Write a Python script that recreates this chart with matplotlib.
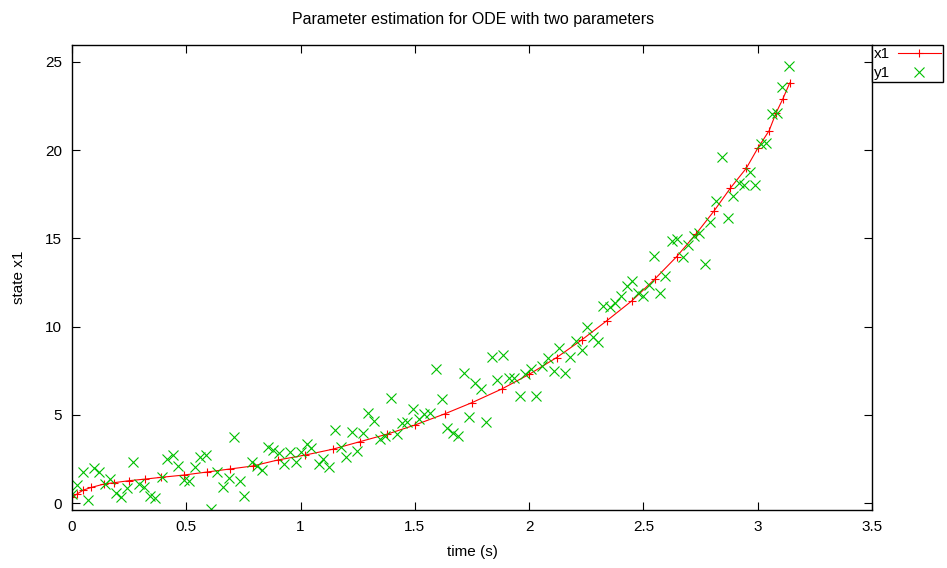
import matplotlib
matplotlib.use("Agg")
import matplotlib.pyplot as plt
import numpy as np

plt.rcParams['font.family'] = ['Liberation Sans', 'DejaVu Sans']

# model trajectory x1
t_x1 = [0.0, 0.02, 0.05, 0.085, 0.14, 0.186, 0.25, 0.32, 0.39, 0.49, 0.59, 0.69,
        0.79, 0.90, 1.02, 1.14, 1.26, 1.38, 1.50, 1.63, 1.75, 1.88, 2.0, 2.12,
        2.23, 2.34, 2.45, 2.55, 2.645, 2.73, 2.81, 2.88, 2.95, 3.0, 3.05, 3.08,
        3.11, 3.14]
x1 = [0.34, 0.51, 0.75, 0.9, 1.09, 1.17, 1.28, 1.37, 1.47, 1.6, 1.77, 1.94,
      2.11, 2.45, 2.73, 3.06, 3.49, 3.92, 4.43, 5.06, 5.7, 6.47, 7.3, 8.25,
      9.25, 10.34, 11.47, 12.7, 13.96, 15.25, 16.57, 17.84, 18.97, 20.1, 21.1,
      22.1, 22.9, 23.8]

# noisy measurements y1
t_y1 = [0.0, 0.023, 0.047, 0.071, 0.095, 0.117, 0.143, 0.168, 0.193, 0.216,
        0.241, 0.267, 0.295, 0.314, 0.343, 0.365, 0.394, 0.416, 0.44, 0.464,
        0.488, 0.513, 0.539, 0.561, 0.586, 0.609, 0.634, 0.66, 0.685, 0.71,
        0.734, 0.753, 0.786, 0.81, 0.831, 0.859, 0.881, 0.906, 0.929, 0.954,
        0.978, 1.002, 1.027, 1.046, 1.079, 1.1, 1.124, 1.151, 1.176, 1.199,
        1.224, 1.248, 1.274, 1.296, 1.322, 1.347, 1.371, 1.395, 1.42, 1.445,
        1.467, 1.493, 1.517, 1.541, 1.567, 1.592, 1.617, 1.641, 1.666, 1.691,
        1.714, 1.739, 1.762, 1.788, 1.813, 1.838, 1.861, 1.886, 1.91, 1.934,
        1.959, 1.984, 2.008, 2.031, 2.058, 2.082, 2.107, 2.132, 2.155, 2.18,
        2.206, 2.231, 2.254, 2.279, 2.302, 2.325, 2.352, 2.377, 2.401, 2.426,
        2.45, 2.475, 2.499, 2.523, 2.548, 2.573, 2.596, 2.624, 2.647, 2.672,
        2.696, 2.72, 2.742, 2.769, 2.793, 2.816, 2.843, 2.868, 2.892, 2.916,
        2.94, 2.966, 2.989, 3.014, 3.037, 3.062, 3.086, 3.108, 3.136]
y1 = [0.55, 1.04, 1.76, 0.19, 2.02, 1.79, 1.09, 1.37, 0.57, 0.34,
      0.85, 2.31, 1.09, 0.9, 0.41, 0.28, 1.51, 2.51, 2.74, 2.12,
      1.32, 1.26, 2.07, 2.64, 2.74, -0.32, 1.79, 0.9, 1.44, 3.74,
      1.28, 0.41, 2.31, 2.12, 1.9, 3.19, 3.0, 2.85, 2.23, 2.93,
      2.36, 2.93, 3.36, 3.13, 2.24, 2.49, 2.04, 4.15, 3.18, 2.6,
      4.06, 2.94, 4.0, 5.14, 4.67, 3.66, 3.8, 5.95, 3.94, 4.55,
      4.61, 5.33, 4.79, 5.06, 5.11, 7.59, 5.89, 4.26, 4.0, 3.79,
      7.36, 4.87, 6.81, 6.47, 4.6, 8.27, 6.98, 8.41, 7.09, 7.09,
      6.09, 7.34, 7.6, 6.09, 7.8, 8.2, 7.5, 8.82, 7.4, 8.28,
      9.2, 8.68, 9.96, 9.42, 9.12, 11.17, 11.11, 11.36, 11.74, 12.33,
      12.6, 11.93, 11.74, 12.38, 14.03, 11.91, 12.88, 14.84, 14.97, 13.96,
      14.63, 15.11, 15.33, 13.55, 15.95, 17.12, 19.63, 16.16, 17.42, 18.12,
      18.03, 18.78, 18.03, 20.33, 20.42, 22.03, 22.09, 23.59, 24.76]

fig = plt.figure(figsize=(9.47, 5.68), dpi=100)
ax = fig.add_axes([0.076, 0.1021, 0.8448, 0.8187])

ax.plot(t_x1, x1, color='#ff0000', lw=0.8, marker='+', ms=6, mew=0.8, label='x1')
ax.plot(t_y1, y1, ls='none', color='#00c000', marker='x', ms=7, mew=0.8, label='y1')

ax.set_xlim(0, 3.5)
ax.set_ylim(-0.38, 25.95)
ax.set_xticks(np.arange(0, 3.51, 0.5))
ax.set_xticklabels(['0', '0.5', '1', '1.5', '2', '2.5', '3', '3.5'])
ax.set_yticks([0, 5, 10, 15, 20, 25])
ax.tick_params(direction='in', top=True, right=True, length=6, width=0.8,
               labelsize=11, pad=7)
for s in ax.spines.values():
    s.set_linewidth(1.0)

ax.set_xlabel('time (s)', fontsize=11, labelpad=8)
ax.set_ylabel('state x1', fontsize=11, labelpad=14)
fig.suptitle('Parameter estimation for ODE with two parameters', fontsize=11.5, y=0.978)

leg = ax.legend(loc='upper left', bbox_to_anchor=(1.0, 1.0), markerfirst=False,
                fancybox=False, edgecolor='black', framealpha=1, fontsize=11,
                borderaxespad=0, borderpad=0.15, handlelength=2.8, handletextpad=0.5,
                labelspacing=0.3)
leg.get_frame().set_linewidth(1.0)

fig.savefig('out.png', dpi=100)
